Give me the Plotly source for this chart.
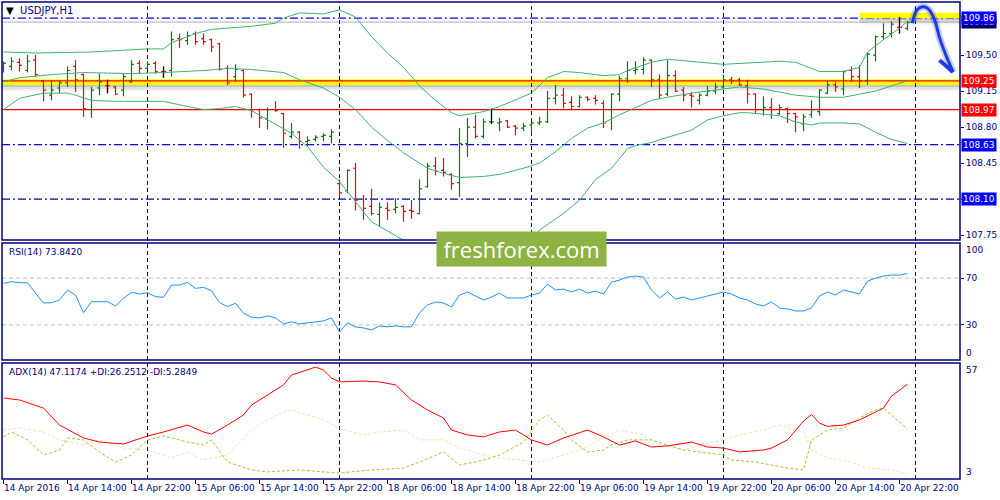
import plotly.graph_objects as go

# ---------------- data (USDJPY H1, bar 0 = 14 Apr 2016 06:00, weekend removed) -------------
opens = [109.37, 109.39, 109.43, 109.35, 109.45, 109.25, 109.11, 109.18, 109.23, 109.39,
         109.31, 108.97, 109.18, 109.20, 109.19, 109.16, 109.24, 109.42, 109.37, 109.42,
         109.34, 109.35, 109.66, 109.64, 109.71, 109.66, 109.65, 109.61, 109.37, 109.29,
         109.35, 109.12, 108.97, 108.88, 108.97, 108.93, 108.71, 108.75, 108.66, 108.68,
         108.71, 108.71, 108.25, 108.18, 108.40, 108.10, 108.03, 107.95, 108.01, 108.00,
         108.03, 107.99, 107.96, 108.22, 108.42, 108.38, 108.34, 108.26, 108.64, 108.80,
         108.71, 108.85, 108.84, 108.86, 108.81, 108.79, 108.82, 108.84, 108.85, 109.08,
         109.11, 109.04, 109.00, 109.09, 109.08, 109.03, 108.97, 109.12, 109.27, 109.35,
         109.36, 109.45, 109.26, 109.12, 109.30, 109.16, 109.11, 109.06, 109.11, 109.15,
         109.19, 109.26, 109.26, 109.20, 109.12, 108.97, 108.99, 108.93, 108.98, 108.93,
         108.83, 108.92, 108.95, 109.13, 109.21, 109.17, 109.35, 109.29, 109.25, 109.50,
         109.68, 109.71, 109.77, 109.76]
highs = [109.44, 109.48, 109.47, 109.50, 109.50, 109.26, 109.25, 109.25, 109.39, 109.45,
         109.32, 109.19, 109.32, 109.26, 109.20, 109.32, 109.45, 109.45, 109.44, 109.44,
         109.39, 109.73, 109.71, 109.73, 109.73, 109.71, 109.66, 109.62, 109.40, 109.41,
         109.36, 109.13, 108.98, 108.99, 109.05, 108.94, 108.84, 108.76, 108.71, 108.72,
         108.74, 108.78, 108.29, 108.39, 108.45, 108.14, 108.20, 108.07, 108.07, 108.11,
         108.04, 108.09, 108.29, 108.45, 108.51, 108.50, 108.35, 108.79, 108.89, 108.92,
         108.88, 108.98, 108.89, 108.87, 108.82, 108.84, 108.85, 108.90, 109.15, 109.21,
         109.18, 109.10, 109.11, 109.10, 109.11, 109.06, 109.13, 109.30, 109.44, 109.44,
         109.48, 109.46, 109.31, 109.45, 109.35, 109.19, 109.14, 109.13, 109.20, 109.23,
         109.31, 109.29, 109.28, 109.26, 109.13, 109.10, 109.08, 109.02, 108.99, 108.94,
         108.93, 109.06, 109.17, 109.25, 109.24, 109.35, 109.39, 109.40, 109.52, 109.69,
         109.81, 109.83, 109.87, 109.83]
lows = [109.33, 109.35, 109.34, 109.33, 109.29, 109.05, 109.06, 109.13, 109.19, 109.14,
        108.90, 108.89, 109.11, 109.13, 109.11, 109.10, 109.23, 109.32, 109.36, 109.32,
        109.28, 109.29, 109.57, 109.60, 109.60, 109.60, 109.53, 109.35, 109.21, 109.24,
        109.09, 108.89, 108.79, 108.78, 108.95, 108.60, 108.69, 108.59, 108.61, 108.66,
        108.66, 108.64, 108.12, 108.16, 107.99, 107.90, 107.94, 107.83, 107.90, 107.96,
        107.88, 107.91, 107.95, 108.21, 108.33, 108.32, 108.19, 108.12, 108.51, 108.69,
        108.69, 108.83, 108.76, 108.79, 108.72, 108.76, 108.73, 108.82, 108.84, 109.02,
        108.98, 108.97, 108.99, 109.05, 109.02, 108.79, 108.77, 109.05, 109.23, 109.31,
        109.31, 109.19, 109.08, 109.10, 109.14, 109.05, 108.99, 109.02, 109.10, 109.12,
        109.17, 109.22, 109.20, 109.03, 108.93, 108.91, 108.88, 108.92, 108.84, 108.75,
        108.76, 108.89, 108.91, 109.12, 109.14, 109.11, 109.24, 109.18, 109.21, 109.44,
        109.65, 109.67, 109.71, 109.74]
closes = [109.42, 109.44, 109.40, 109.44, 109.31, 109.16, 109.16, 109.23, 109.35, 109.26,
          108.98, 109.16, 109.24, 109.20, 109.12, 109.29, 109.41, 109.37, 109.41, 109.34,
          109.34, 109.65, 109.65, 109.69, 109.63, 109.63, 109.58, 109.36, 109.23, 109.36,
          109.11, 108.97, 108.89, 108.97, 108.96, 108.74, 108.75, 108.66, 108.67, 108.70,
          108.72, 108.75, 108.16, 108.38, 108.09, 108.01, 107.96, 108.02, 107.99, 108.02,
          107.98, 107.98, 108.20, 108.42, 108.37, 108.36, 108.25, 108.64, 108.80, 108.71,
          108.85, 108.85, 108.85, 108.80, 108.79, 108.81, 108.84, 108.85, 109.08, 109.11,
          109.03, 109.00, 109.09, 109.07, 109.06, 108.84, 109.12, 109.27, 109.35, 109.36,
          109.45, 109.26, 109.11, 109.30, 109.15, 109.11, 109.10, 109.11, 109.15, 109.19,
          109.26, 109.25, 109.21, 109.12, 108.97, 108.99, 108.97, 108.99, 108.93, 108.90,
          108.90, 108.97, 109.16, 109.21, 109.19, 109.34, 109.29, 109.25, 109.51, 109.68,
          109.71, 109.80, 109.77, 109.82]

tick_labels = ["14 Apr 2016", "14 Apr 14:00", "14 Apr 22:00", "15 Apr 06:00", "15 Apr 14:00",
               "15 Apr 22:00", "18 Apr 06:00", "18 Apr 14:00", "18 Apr 22:00", "19 Apr 06:00",
               "19 Apr 14:00", "19 Apr 22:00", "20 Apr 06:00", "20 Apr 14:00", "20 Apr 22:00"]
tick_every = 8
day_starts = [18, 42, 66, 90, 114]          # bar index of 00:00 each day

# Bollinger Bands (20,2)
bb_upper_x = [0, 4, 11, 18, 20, 21, 24, 26, 31, 34, 35, 37, 40, 42, 44, 46, 48, 50, 52, 54,
              56, 57, 60, 62, 66, 68, 70, 72, 75, 77, 78, 81, 83, 86, 90, 97, 99, 102, 105, 107,
              108, 110, 112, 113]
bb_upper = [109.53, 109.52, 109.53, 109.56, 109.56, 109.62, 109.71, 109.75, 109.78, 109.81,
            109.86, 109.91, 109.90, 109.94, 109.87, 109.68, 109.52, 109.38, 109.20, 109.06,
            108.94, 108.91, 108.95, 109.00, 109.13, 109.28, 109.34, 109.33, 109.30, 109.31,
            109.35, 109.43, 109.46, 109.44, 109.41, 109.44, 109.43, 109.34, 109.34, 109.38,
            109.53, 109.65, 109.76, 109.83]
bb_mid_x = [0, 2, 6, 10, 16, 20, 25, 28, 31, 35, 37, 40, 42, 44, 46, 48, 50, 52, 53, 55,
            57, 60, 62, 65, 67, 69, 71, 73, 75, 77, 79, 81, 83, 86, 90, 92, 95, 97, 99, 102,
            105, 107, 109, 111, 113]
bb_mid = [109.24, 109.28, 109.31, 109.33, 109.32, 109.33, 109.35, 109.37, 109.36, 109.33,
          109.26, 109.18, 109.09, 108.97, 108.80, 108.67, 108.55, 108.45, 108.40, 108.35,
          108.31, 108.32, 108.34, 108.40, 108.45, 108.56, 108.69, 108.79, 108.84, 108.92,
          108.99, 109.06, 109.09, 109.13, 109.17, 109.19, 109.17, 109.14, 109.11, 109.09,
          109.09, 109.12, 109.15, 109.20, 109.25]
bb_lower_x = [0, 2, 5, 8, 9, 11, 14, 20, 23, 25, 27, 29, 31, 33, 36, 38, 40, 42, 44, 46,
              50, 52, 56, 60, 63, 66, 67, 70, 72, 74, 76, 78, 79, 81, 83, 86, 88, 90, 92, 93,
              97, 99, 101, 102, 105, 107, 109, 111, 113]
bb_lower = [108.97, 109.08, 109.13, 109.13, 109.11, 109.06, 109.05, 109.05, 109.00, 108.97,
            108.98, 109.00, 108.96, 108.87, 108.74, 108.61, 108.41, 108.27, 108.07, 107.88,
            107.70, 107.59, 107.49, 107.49, 107.59, 107.70, 107.80, 107.96, 108.09, 108.29,
            108.40, 108.59, 108.62, 108.65, 108.70, 108.77, 108.87, 108.91, 108.94, 108.94,
            108.91, 108.85, 108.82, 108.84, 108.84, 108.83, 108.75, 108.68, 108.64]

# RSI(14), one value per bar
rsi = [65.5, 66.9, 66.0, 66.0, 57.2, 48.7, 49.0, 51.3, 59.8, 55.5,
       40.5, 49.8, 49.8, 49.8, 46.2, 52.7, 57.8, 56.4, 57.5, 54.1,
       53.6, 64.0, 64.0, 66.3, 61.2, 62.1, 59.2, 49.0, 45.6, 48.5,
       40.0, 36.6, 36.0, 37.7, 36.0, 30.9, 32.6, 30.9, 31.7, 32.6,
       33.4, 36.0, 24.0, 31.7, 28.3, 27.4, 25.7, 29.1, 28.3, 29.1,
       28.3, 28.3, 40.2, 47.0, 49.6, 48.7, 45.3, 55.5, 58.1, 54.7,
       51.3, 53.8, 57.2, 53.0, 53.0, 53.0, 55.5, 57.2, 64.9, 59.8,
       60.6, 58.1, 60.6, 57.2, 58.9, 56.4, 66.6, 68.3, 70.9, 71.7,
       70.9, 59.8, 53.0, 58.1, 52.1, 53.8, 51.3, 53.0, 54.7, 56.4,
       58.1, 56.4, 53.0, 51.3, 47.9, 46.2, 49.6, 44.5, 43.6, 41.9,
       41.9, 44.5, 54.7, 58.1, 55.5, 59.8, 58.1, 56.4, 67.4, 70.0,
       71.7, 72.6, 72.6, 73.84]
rsi_levels = [70, 30]

# ADX(14) with +DI / -DI
adx_x = [0, 2, 5, 7, 10, 12, 15, 18, 20, 23, 25, 26, 28, 30, 31, 33, 35, 36, 38, 39,
         40, 41, 42, 45, 47, 49, 51, 53, 55, 56, 58, 60, 62, 64, 66, 68, 70, 73, 75, 77,
         79, 81, 83, 86, 88, 90, 92, 95, 96, 98, 100, 101, 102, 103, 105, 107, 110, 111, 113]
adx = [40.7, 39.8, 36.0, 28.1, 22.1, 20.2, 19.3, 23.0, 24.9, 28.1, 24.9, 23.9, 28.1, 32.8,
       37.4, 42.1, 46.8, 51.4, 53.7, 55.1, 53.7, 50.0, 48.2, 48.6, 48.2, 46.8, 39.8, 35.1,
       31.4, 25.8, 23.5, 22.6, 24.9, 25.8, 21.2, 18.8, 22.1, 25.8, 22.6, 18.8, 20.7, 17.9,
       18.4, 20.2, 17.9, 17.4, 15.6, 16.5, 17.4, 21.2, 30.0, 33.0, 29.0, 27.5, 28.1, 30.5,
       36.0, 41.6, 47.12]
pdi_x = [0, 1, 3, 5, 7, 8, 10, 12, 14, 16, 18, 20, 21, 23, 25, 26, 28, 31, 33, 37,
         40, 42, 46, 50, 52, 54, 55, 57, 60, 62, 65, 67, 68, 70, 71, 73, 75, 76, 78, 81,
         83, 85, 87, 90, 91, 94, 96, 98, 100, 101, 103, 105, 107, 109, 110, 111, 113]
pdi = [22.6, 24.9, 21.2, 14.2, 16.5, 22.1, 21.2, 15.6, 10.9, 14.2, 21.2, 23.0, 22.1, 20.2,
       18.8, 21.2, 10.9, 7.2, 6.3, 7.2, 6.3, 5.8, 7.2, 8.1, 10.9, 14.2, 15.6, 9.5, 11.8,
       14.2, 20.2, 30.5, 32.8, 25.8, 21.2, 15.6, 16.5, 18.8, 21.2, 21.2, 18.8, 16.5, 15.6,
       14.2, 11.8, 10.9, 9.5, 8.1, 7.2, 21.2, 25.8, 26.7, 31.4, 35.1, 36.0, 32.8, 26.25]
mdi_x = [0, 2, 5, 7, 10, 12, 15, 18, 20, 21, 23, 25, 28, 31, 33, 35, 36, 38, 40, 42,
         45, 47, 50, 52, 55, 57, 60, 62, 65, 67, 70, 72, 75, 77, 80, 82, 85, 87, 90, 92,
         95, 97, 100, 101, 103, 106, 108, 111, 113]
mdi = [25.8, 26.7, 24.9, 21.2, 18.8, 21.2, 17.4, 16.5, 14.2, 12.8, 15.6, 11.8, 14.2, 25.8,
       30.5, 34.2, 35.1, 32.8, 30.5, 26.7, 23.5, 24.9, 25.8, 21.2, 21.2, 17.4, 14.2, 12.8,
       11.8, 10.9, 14.2, 16.5, 22.1, 25.8, 23.5, 18.8, 16.5, 18.8, 21.2, 23.5, 25.8, 28.1,
       24.9, 16.5, 12.8, 10.9, 8.1, 7.2, 5.28]

# drawn levels / labels
res_zone = [109.857, 109.912]     # yellow zone at top (from bar 107)
res_zone_start = 107
sup_zone = [109.209, 109.266]     # yellow zone at 109.25
level_lines = [  # price, color, dash
    (109.86, "#0000FF", "8px,3px,2px,3px"),
    (109.82, "#C0C0C0", "solid"),
    (109.25, "#FF0000", "solid"),
    (108.97, "#FF0000", "solid"),
    (108.63, "#0000FF", "8px,3px,2px,3px"),
    (108.10, "#0000C0", "8px,3px,2px,3px"),
]
level_labels = [  # price, box colour
    (109.82, "#000060"), (109.86, "#0000FF"), (109.25, "#FF0000"),
    (108.97, "#FF0000"), (108.63, "#0000FF"), (108.10, "#0000FF"),
]
price_ticks = [107.75, 108.10, 108.45, 108.80, 109.15, 109.50]
forecast_x = [113.6, 114.2, 114.9, 115.6, 116.4, 117.0, 117.9, 118.7]
forecast_y = [109.81, 109.94, 109.97, 109.95, 109.84, 109.67, 109.48, 109.335]
arrow_wing_x = [117.0, 118.7]
arrow_wing_y = [109.45, 109.335]

# ---------------- figure -------------
NAVY = "#000080"
FONT = "DejaVu Sans"
bars = list(range(len(closes)))
boxed = {p for p, _ in level_labels}
fig = go.Figure()

# Bollinger bands
for bx, by in ((bb_upper_x, bb_upper), (bb_mid_x, bb_mid), (bb_lower_x, bb_lower)):
    fig.add_trace(go.Scatter(x=bx, y=by, mode="lines", line=dict(color="#3CB371", width=1),
                             xaxis="x", yaxis="y", hoverinfo="skip"))

fig.add_trace(go.Ohlc(x=bars, open=opens, high=highs, low=lows, close=closes,
                      increasing=dict(line=dict(color="#008000", width=1.2)),
                      decreasing=dict(line=dict(color="#FF0000", width=1.2)),
                      tickwidth=0.3, xaxis="x", yaxis="y"))
doji = [i for i in bars if opens[i] == closes[i]]
gaps = [b - a for a, b in zip(doji, doji[1:])] or [1]
fig.add_trace(go.Ohlc(x=doji, open=[opens[i] for i in doji], high=[highs[i] for i in doji],
                      low=[lows[i] for i in doji], close=[closes[i] for i in doji],
                      increasing=dict(line=dict(color="#000000", width=1.2)),
                      decreasing=dict(line=dict(color="#000000", width=1.2)),
                      tickwidth=0.3 / min(gaps), xaxis="x", yaxis="y"))

# forecast arrow
fig.add_trace(go.Scatter(x=forecast_x, y=forecast_y, mode="lines",
                         line=dict(color="rgba(40,60,200,0.25)", width=7, shape="spline"),
                         xaxis="x", yaxis="y", hoverinfo="skip"))
fig.add_trace(go.Scatter(x=forecast_x, y=forecast_y, mode="lines",
                         line=dict(color="#1E3AE8", width=3, shape="spline"),
                         xaxis="x", yaxis="y", hoverinfo="skip"))
fig.add_trace(go.Scatter(x=arrow_wing_x, y=arrow_wing_y, mode="lines",
                         line=dict(color="#1E3AE8", width=4), xaxis="x", yaxis="y",
                         hoverinfo="skip"))

# RSI
fig.add_trace(go.Scatter(x=bars, y=rsi, mode="lines", line=dict(color="#1E90FF", width=1),
                         xaxis="x", yaxis="y2", hoverinfo="skip"))
# ADX
fig.add_trace(go.Scatter(x=mdi_x, y=mdi, mode="lines",
                         line=dict(color="#F5DEB3", width=1, dash="3px,2px"),
                         xaxis="x", yaxis="y3", hoverinfo="skip"))
fig.add_trace(go.Scatter(x=pdi_x, y=pdi, mode="lines",
                         line=dict(color="#9ACD32", width=1, dash="3px,2px"),
                         xaxis="x", yaxis="y3", hoverinfo="skip"))
fig.add_trace(go.Scatter(x=adx_x, y=adx, mode="lines", line=dict(color="#FF0000", width=1),
                         xaxis="x", yaxis="y3", hoverinfo="skip"))

shapes = []
# yellow zones with soft shadow
for zone, x0, xref in ((sup_zone, 0, "x domain"), (res_zone, res_zone_start, "x")):
    x1 = 1 if xref == "x domain" else 200
    lo, hi = zone
    for k, op in enumerate((0.45, 0.25, 0.12)):
        shapes.append(dict(type="rect", xref=xref, yref="y", x0=x0, x1=x1,
                           y0=lo - 0.02 * (k + 1), y1=lo - 0.02 * k, layer="below",
                           line=dict(width=0), fillcolor="gray", opacity=op))
    shapes.append(dict(type="rect", xref=xref, yref="y", x0=x0, x1=x1, y0=lo, y1=hi,
                       layer="below", line=dict(width=0), fillcolor="#FFFF00"))
for price, col, dash in level_lines:
    shapes.append(dict(type="line", xref="x domain", yref="y", x0=0, x1=1, y0=price, y1=price,
                       line=dict(color=col, width=1.3, dash=dash), layer="below"))
for lv in rsi_levels:
    shapes.append(dict(type="line", xref="x domain", yref="y2", x0=0, x1=1, y0=lv, y1=lv,
                       line=dict(color="#C0C0C0", width=1, dash="4px,3px"), layer="below"))
for d in day_starts:
    shapes.append(dict(type="line", xref="x", yref="paper", x0=d, x1=d, y0=0, y1=1,
                       line=dict(color=NAVY, width=1, dash="4px,3px"), layer="below"))
for yr in ("y domain", "y2 domain", "y3 domain"):
    shapes.append(dict(type="rect", xref="x domain", yref=yr, x0=0, x1=1, y0=0, y1=1,
                       line=dict(color=NAVY, width=1.5)))

ann = []
for price, col in level_labels:
    ann.append(dict(xref="x domain", yref="y", x=1, y=price, xanchor="left", xshift=1,
                    text=f"{price:.2f}", showarrow=False, bgcolor=col, borderpad=1,
                    font=dict(family=FONT, size=9, color="white")))
for txt, yr, yv, ya in (("100", "y2 domain", 1, "top"), ("0", "y2 domain", 0, "bottom"),
                        ("57", "y3 domain", 1, "top"), ("3", "y3 domain", 0, "bottom")):
    ann.append(dict(xref="x domain", yref=yr, x=1, y=yv, xanchor="left", yanchor=ya,
                    xshift=4, text=txt, showarrow=False,
                    font=dict(family=FONT, size=9, color=NAVY)))
ann.append(dict(xref="x domain", yref="y domain", x=0, y=1, xanchor="left", yanchor="top",
                xshift=2, yshift=-1, showarrow=False,
                text="<span style='color:black'>▼</span>  USDJPY,H1",
                font=dict(family=FONT, size=10, color=NAVY)))
ann.append(dict(xref="x domain", yref="y2 domain", x=0, y=1, xanchor="left", yanchor="top",
                xshift=5, yshift=-2, showarrow=False, text="RSI(14) 73.8420",
                font=dict(family=FONT, size=9, color=NAVY)))
ann.append(dict(xref="x domain", yref="y3 domain", x=0, y=1, xanchor="left", yanchor="top",
                xshift=5, yshift=-2, showarrow=False,
                text="ADX(14) 47.1174 +DI:26.2512 -DI:5.2849",
                font=dict(family=FONT, size=9, color=NAVY)))
ann.append(dict(xref="paper", yref="paper", x=0.5423, y=0.482, xanchor="center",
                yanchor="middle", showarrow=False, text="freshforex.com", bgcolor="#8DB443",
                width=163, height=28, borderpad=3,
                font=dict(family="Open Sans", size=22, color="white")))

axfont = dict(family=FONT, size=9, color=NAVY)
fig.update_layout(
    width=1000, height=500, margin=dict(l=2, r=40, t=2, b=21, autoexpand=False),
    paper_bgcolor="white", plot_bgcolor="white", showlegend=False, hovermode=False,
    shapes=shapes, annotations=ann,
    xaxis=dict(domain=[0, 1], anchor="y3", range=[-0.1875, 119.5625], showgrid=False,
               zeroline=False, rangeslider=dict(visible=False), automargin=False,
               tickvals=[i * tick_every for i in range(len(tick_labels))],
               ticktext=tick_labels, ticks="outside", ticklen=4, tickcolor=NAVY,
               tickangle=0, ticklabelposition="outside right", tickfont=axfont),
    yaxis=dict(domain=[0.501, 1], range=[107.702, 110.016], side="right", anchor="x",
               showgrid=False, zeroline=False, tickvals=price_ticks, automargin=False,
               ticktext=["" if v in boxed else f"{v:.2f}" for v in price_ticks],
               ticks="outside", ticklen=3, tickcolor=NAVY, tickfont=axfont),
    yaxis2=dict(domain=[0.2495, 0.4948], range=[0, 100], side="right", anchor="x",
                showgrid=False, zeroline=False, tickvals=rsi_levels, ticks="outside",
                ticklen=3, tickcolor=NAVY, tickfont=axfont, automargin=False),
    yaxis3=dict(domain=[0, 0.2432], range=[3, 57], side="right", anchor="x",
                showgrid=False, zeroline=False, showticklabels=False, automargin=False),
)
fig.write_html("out.html", config={"displayModeBar": False},
               post_script="document.body.style.margin='0px';"
                           "document.body.style.overflow='hidden';")
